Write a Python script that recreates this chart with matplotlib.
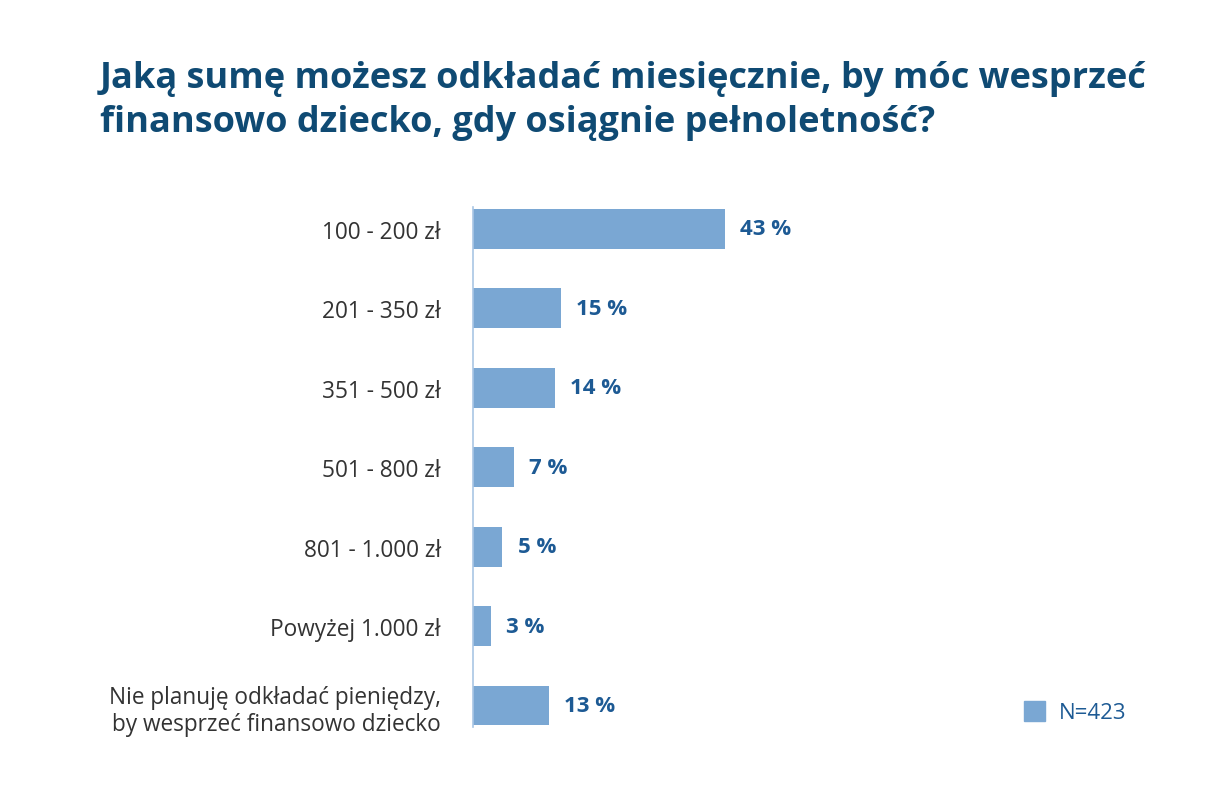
import matplotlib.pyplot as plt
from matplotlib.patches import Patch

categories = ["100 - 200 zł", "201 - 350 zł", "351 - 500 zł", "501 - 800 zł",
              "801 - 1.000 zł", "Powyżej 1.000 zł",
              "Nie planuję odkładać pieniędzy,\nby wesprzeć finansowo dziecko"]
values = [43, 15, 14, 7, 5, 3, 13]
legend_label = "N=423"
title = "Jaką sumę możesz odkładać miesięcznie, by móc wesprzeć\nfinansowo dziecko, gdy osiągnie pełnoletność?"

bar_color = "#7aa7d3"
value_color = "#1d5a94"
title_color = "#0f4a73"
label_color = "#333333"

plt.rcParams['font.family'] = ['Open Sans', 'DejaVu Sans']

fig = plt.figure(figsize=(12.05, 8.03), dpi=100)
W, H = 1205, 803
ax = fig.add_axes([473 / W, 75 / H, 677 / W, 520 / H])

y = list(range(len(values)))
ax.barh(y, values, height=0.5, color=bar_color)
ax.set_ylim(6.27, -0.275)
ax.set_xlim(0, 115.6)

for yi, v in zip(y, values):
    ax.text(v + 2.6, yi, f"{v} %", va="center", ha="left",
            fontsize=16, fontweight="bold", color=value_color)

ax.set_yticks(y)
ax.set_yticklabels(categories, fontsize=16.3, color=label_color, ha="right",
                   linespacing=1.2)
ax.tick_params(axis="y", length=0, pad=23)
ax.set_xticks([])
for s in ["top", "right", "bottom"]:
    ax.spines[s].set_visible(False)
ax.spines["left"].set_color("#a9c6e4")
ax.spines["left"].set_linewidth(1.2)

fig.text(100 / W, 1 - 61 / H, title, ha="left", va="top", fontsize=26,
         fontweight="bold", color=title_color, linespacing=1.3)

leg = fig.legend(handles=[Patch(color=bar_color, label=legend_label)],
                 loc="center left", bbox_to_anchor=(1004 / W, 1 - 713 / H),
                 frameon=False, fontsize=16, handlelength=0.95, handleheight=1.0,
                 handletextpad=0.6)
for t in leg.get_texts():
    t.set_color(value_color)

fig.savefig("out.png", dpi=100, facecolor="white")
